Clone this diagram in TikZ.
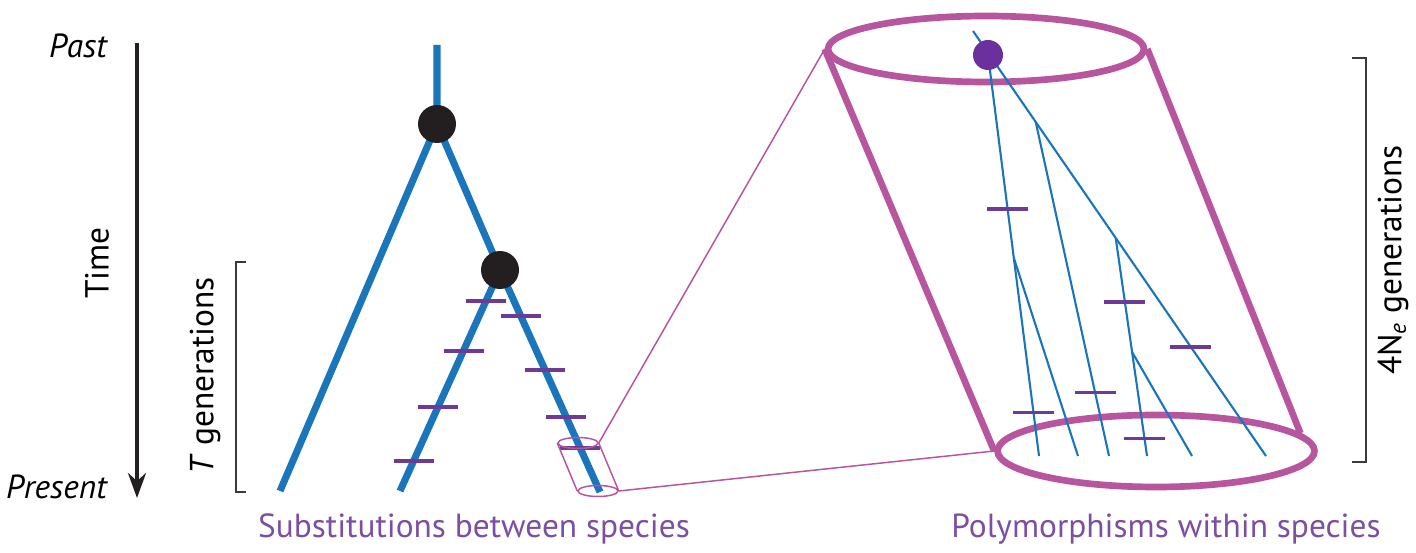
\documentclass[tikz,border=0pt]{standalone}
\usepackage{fontspec}
\setmainfont{PT Sans}
\usetikzlibrary{calc, positioning, arrows.meta, shapes.geometric}
\definecolor{branchblue}{HTML}{1B75BB}
\definecolor{mutpurple}{HTML}{6E3A98}
\definecolor{nodeblack}{HTML}{231F20}
\definecolor{dotpurple}{HTML}{6B2F9E}
\definecolor{cylmagenta}{HTML}{B8559F}
\definecolor{labelpurple}{HTML}{7B4FA2}
\definecolor{bracketgray}{HTML}{3A3A3A}

\begin{document}
\begin{tikzpicture}[x=0.02cm, y=-0.02cm,
  font=\fontsize{19}{22}\selectfont,
  thickbranch/.style={line width=4pt, branchblue},
  thinbranch/.style={line width=1.2pt, branchblue},
  mut/.style={rectangle, fill=mutpurple, inner sep=0pt, minimum width=0.8cm, minimum height=0.08cm},
  spnode/.style={circle, fill=nodeblack, inner sep=0pt, minimum size=0.76cm},
  popdot/.style={circle, fill=dotpurple, inner sep=0pt, minimum size=0.6cm},
  bigcyl/.style={ellipse, draw=cylmagenta, line width=3.8pt, inner sep=0pt},
  smallcyl/.style={ellipse, draw=cylmagenta, line width=0.85pt, inner sep=0pt, minimum width=0.8cm, minimum height=0.22cm},
  zoomline/.style={cylmagenta, line width=0.85pt},
  bracketline/.style={bracketgray, line width=0.7pt},
  caption/.style={text=labelpurple, anchor=base}]
  \useasboundingbox (0,0) rectangle (1416,553);

  % time axis
  \coordinate (tA) at (137,43);
  \coordinate (tB) at (137,498);
  \draw[-{Stealth[length=0.5cm, width=0.36cm]}, line width=2.3pt, nodeblack] (tA) -- (tB);
  \node[anchor=base east, font=\fontsize{19}{22}\selectfont\itshape] (past) at (113,58) {Past};
  \node[anchor=base east, font=\fontsize{19}{22}\selectfont\itshape] (present) at (113,499) {Present};
  \node[rotate=90] (time) at (97,263) {Time};

  % brackets
  \coordinate (bT1) at (236,262);
  \coordinate (bT2) at (236,492);
  \draw[bracketline] ([xshift=0.2cm]bT1) -- (bT1) -- (bT2) -- ([xshift=0.2cm]bT2);
  \node[rotate=90] (tgen) at (205,376) {\textit{T} generations};
  \coordinate (bN1) at (1366,58);
  \coordinate (bN2) at (1366,462);
  \draw[bracketline] ([xshift=-0.28cm]bN1) -- (bN1) -- (bN2) -- ([xshift=-0.28cm]bN2);
  \node[rotate=90] (negen) at (1393,260) {4N\textsubscript{\textit{e}} generations};

  % species tree
  \coordinate (t0) at (437,45);
  \coordinate (n1) at (437,124);
  \coordinate (n2) at (500,270);
  \coordinate (l1) at (280,491);
  \coordinate (l2) at (400,491);
  \coordinate (l3) at (600,492);
  \draw[thickbranch] (t0) -- (n1) -- (l1);
  \draw[thickbranch] (n1) -- (n2) -- (l3);
  \draw[thickbranch] (n2) -- (l2);
  % substitutions
  \foreach \t [count=\i] in {0.139,0.365,0.62,0.864}
    \node[mut] (sl\i) at ($(n2)!\t!(l2)$) {};
  \foreach \t [count=\i] in {0.208,0.452,0.664,0.804}
    \node[mut] (sr\i) at ($(n2)!\t!(l3)$) {};
  \node[spnode] (s1) at (n1) {};
  \node[spnode] (s2) at (n2) {};

  % zoom cylinders
  \node[smallcyl] (ctop) at (578,443) {};
  \node[smallcyl] (cbot) at (598,491) {};
  \draw[zoomline] (ctop.west) -- (cbot.west) (ctop.east) -- (cbot.east);
  \node[bigcyl, minimum width=6.32cm, minimum height=1.32cm] (ptop) at (986,49) {};
  \node[bigcyl, minimum width=6.34cm, minimum height=1.44cm] (pbot) at (1156,451) {};
  \draw[cylmagenta, line width=3.8pt] (ptop.west) -- (pbot.west) (ptop.east) -- (pbot.7);
  \draw[zoomline] (ctop.east) -- (ptop.west) (cbot.east) -- (pbot.west);

  % gene genealogy
  \coordinate (R) at (973,31);
  \coordinate (D) at (988,55);
  \coordinate (E1) at (1039,456);
  \coordinate (E2) at (1078,456);
  \coordinate (E3) at (1109,456);
  \coordinate (E4) at (1147,456);
  \coordinate (E5) at (1192,456);
  \coordinate (E6) at (1266,456);
  \coordinate (J1) at ($(D)!0.506!(E1)$);
  \coordinate (J2) at ($(R)!0.214!(E6)$);
  \coordinate (J3) at ($(R)!0.487!(E6)$);
  \coordinate (J4) at ($(J3)!0.523!(E4)$);
  \foreach \a/\b in {R/E6, D/E1, J1/E2, J2/E3, J3/E4, J4/E5}
    \draw[thinbranch] (\a) -- (\b);
  % polymorphisms
  \foreach \a/\b/\t [count=\i] in {D/J1/0.76, J3/J4/0.56, J3/E6/0.5, J2/E3/0.81, J1/E1/0.78, J4/E4/0.83}
    \node[mut, minimum width=0.82cm, minimum height=0.07cm] (pm\i) at ($(\a)!\t!(\b)$) {};
  \node[popdot] (mrca) at (D) {};

  % captions
  \node[caption] (subst) at (474,538) {Substitutions between species};
  \node[caption] (poly) at (1166,538) {Polymorphisms within species};
\end{tikzpicture}
\end{document}
